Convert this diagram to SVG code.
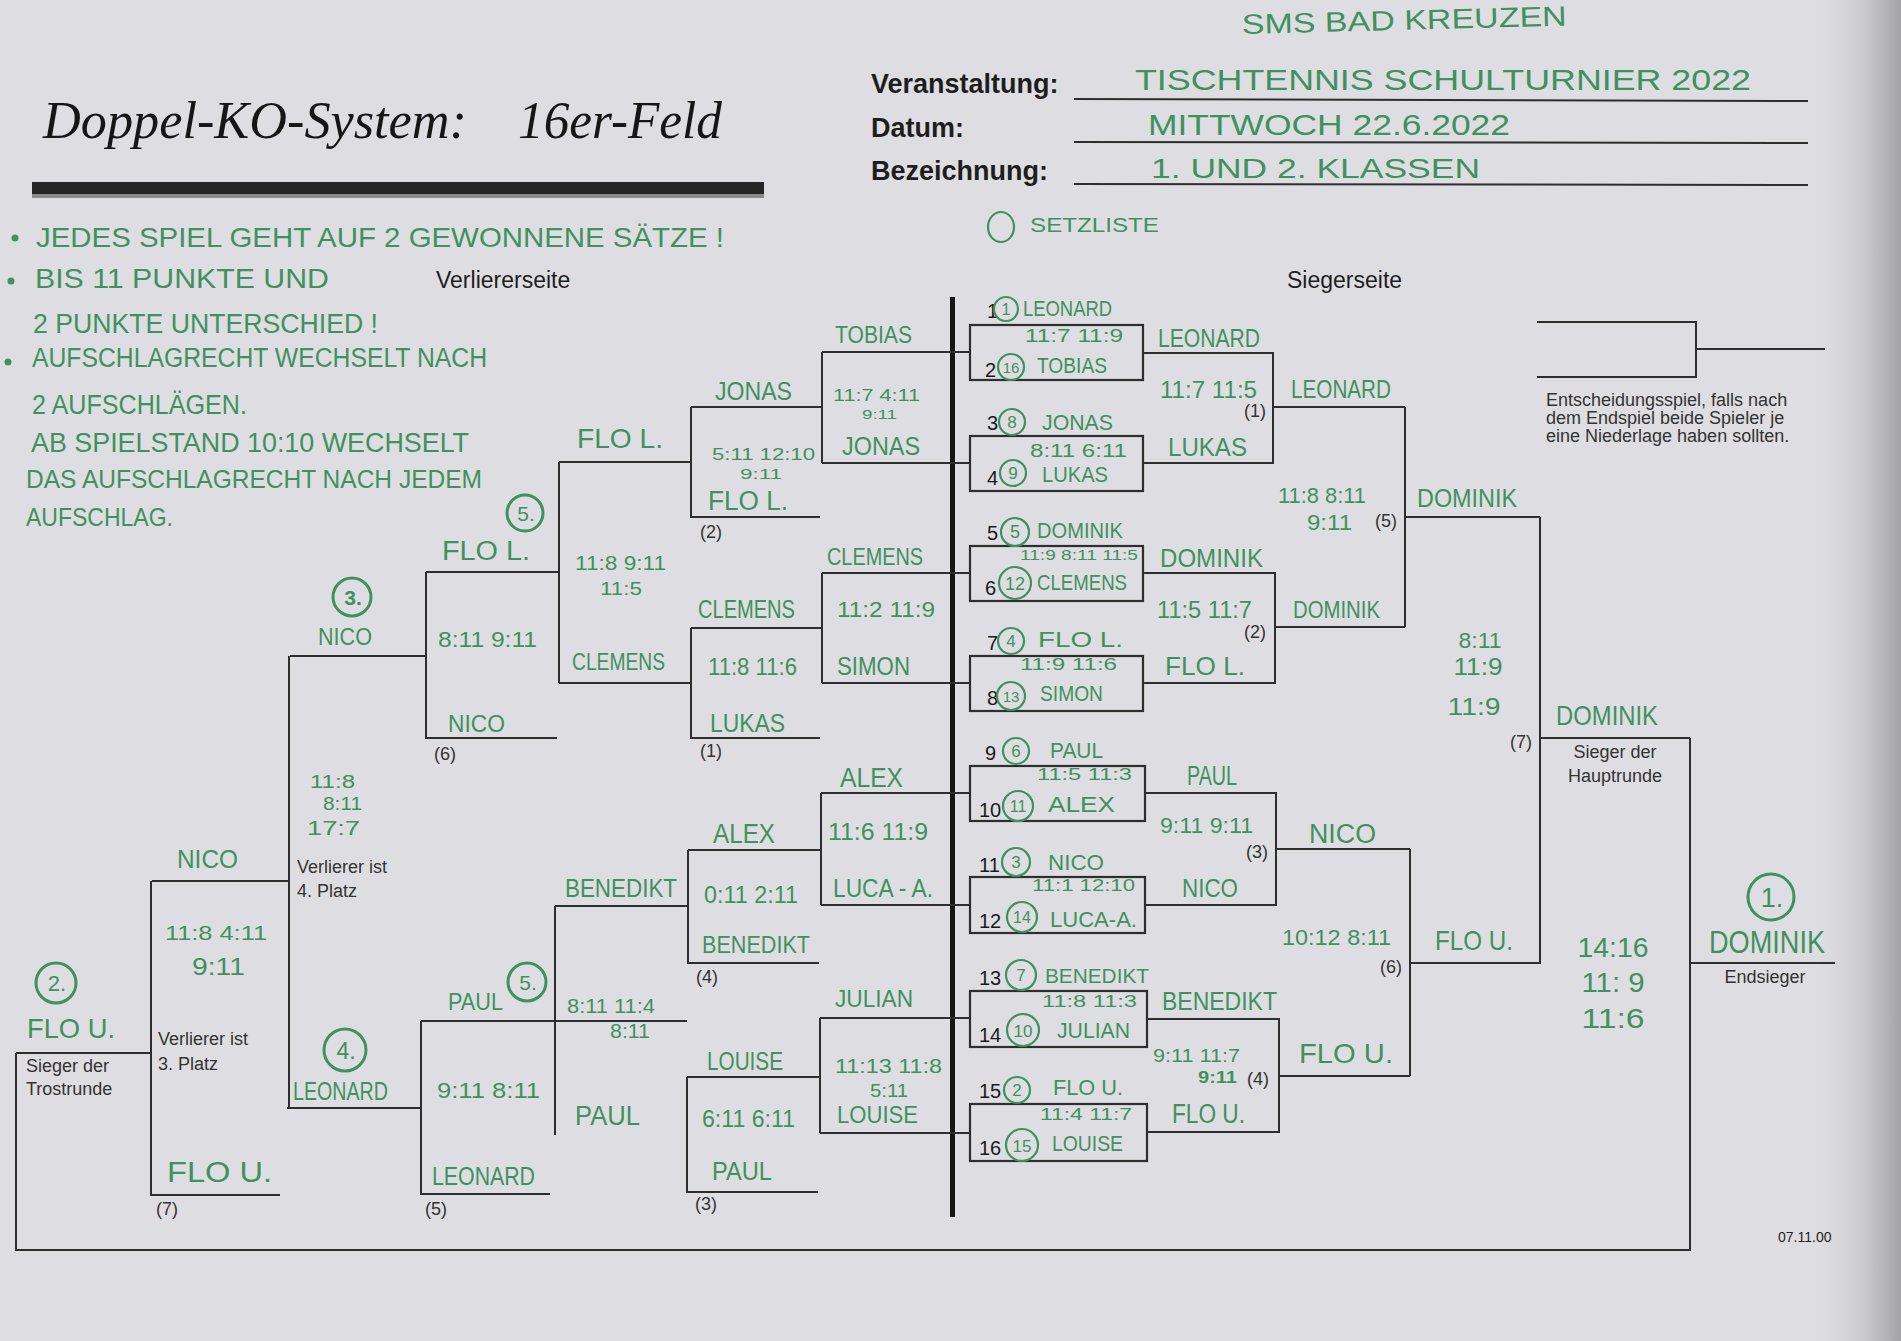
<svg xmlns="http://www.w3.org/2000/svg" width="1901" height="1341" viewBox="0 0 1901 1341">
<defs>
<linearGradient id="shade" x1="0" y1="0" x2="1" y2="0">
<stop offset="0" stop-color="#dcdce0" stop-opacity="0"/>
<stop offset="1" stop-color="#a2a2a6" stop-opacity="1"/>
</linearGradient>
</defs>
<style>
.ln{fill:none;stroke:#2e2e2e;stroke-width:2}
.box{fill:none;stroke:#2e2e2e;stroke-width:2.2}
.hw{font-family:"Liberation Sans","DejaVu Sans",sans-serif;fill:#3f9160}
.ring{fill:none;stroke:#3f9160;stroke-width:2.2}
.ring2{fill:none;stroke:#3f9160;stroke-width:3}
.pr{font-family:"Liberation Sans",Arial,sans-serif;fill:#1e1e1e}
.lab{font-family:"Liberation Sans",Arial,sans-serif;fill:#333333;font-size:18px}
.num{font-family:"Liberation Sans",Arial,sans-serif;fill:#1a1a1a;font-size:20px}
.rn{font-family:"Liberation Sans",Arial,sans-serif;fill:#3f9160;text-anchor:middle}
.mid{text-anchor:middle}
</style>
<rect x="0" y="0" width="1901" height="1341" fill="#dedee2"/>
<rect x="1810" y="0" width="91" height="1341" fill="url(#shade)"/>

<g id="title">
<text x="43" y="138" font-family="Liberation Serif,serif" font-style="italic" font-size="52" fill="#161616" textLength="424" lengthAdjust="spacingAndGlyphs">Doppel-KO-System:</text>
<text x="518" y="138" font-family="Liberation Serif,serif" font-style="italic" font-size="52" fill="#161616" textLength="204" lengthAdjust="spacingAndGlyphs">16er-Feld</text>
<rect x="32" y="182" width="732" height="12" fill="#262626"/>
<rect x="32" y="194" width="732" height="4" fill="#8a8a8a"/>
</g>

<g id="form">
<text class="hw" x="1242" y="34" font-size="28" textLength="325" lengthAdjust="spacingAndGlyphs" transform="rotate(-1.5 1242 34)">SMS  BAD  KREUZEN</text>
<text class="pr" x="871" y="93" font-size="27" font-weight="bold">Veranstaltung:</text>
<text class="pr" x="871" y="137" font-size="27" font-weight="bold">Datum:</text>
<text class="pr" x="871" y="180" font-size="27" font-weight="bold">Bezeichnung:</text>
<line class="ln" x1="1074" y1="99" x2="1808" y2="101" stroke-width="1.6"/>
<line class="ln" x1="1074" y1="142" x2="1808" y2="143" stroke-width="1.6"/>
<line class="ln" x1="1074" y1="184" x2="1808" y2="185" stroke-width="1.6"/>
<text class="hw" x="1135" y="90" font-size="30" textLength="616" lengthAdjust="spacingAndGlyphs">TISCHTENNIS  SCHULTURNIER  2022</text>
<text class="hw" x="1148" y="135" font-size="29" textLength="362" lengthAdjust="spacingAndGlyphs">MITTWOCH  22.6.2022</text>
<text class="hw" x="1151" y="178" font-size="28" textLength="329" lengthAdjust="spacingAndGlyphs">1. UND  2. KLASSEN</text>
<ellipse class="ring" cx="1001" cy="227" rx="13" ry="15"/>
<text class="hw" x="1030" y="232" font-size="21" textLength="129" lengthAdjust="spacingAndGlyphs">SETZLISTE</text>
</g>

<g id="notes">
<circle cx="15" cy="238" r="3.5" fill="#3f9160"/>
<circle cx="11" cy="281" r="3.5" fill="#3f9160"/>
<circle cx="8" cy="362" r="3.5" fill="#3f9160"/>
<text class="hw" x="36" y="247" font-size="28" textLength="688" lengthAdjust="spacingAndGlyphs">JEDES  SPIEL  GEHT  AUF  2  GEWONNENE  SÄTZE  !</text>
<text class="hw" x="35" y="288" font-size="28" textLength="294" lengthAdjust="spacingAndGlyphs">BIS  11  PUNKTE  UND</text>
<text class="hw" x="33" y="333" font-size="28" textLength="345" lengthAdjust="spacingAndGlyphs">2 PUNKTE  UNTERSCHIED !</text>
<text class="hw" x="32" y="367" font-size="27" textLength="455" lengthAdjust="spacingAndGlyphs">AUFSCHLAGRECHT  WECHSELT  NACH</text>
<text class="hw" x="32" y="414" font-size="27" textLength="215" lengthAdjust="spacingAndGlyphs">2 AUFSCHLÄGEN.</text>
<text class="hw" x="31" y="452" font-size="27" textLength="438" lengthAdjust="spacingAndGlyphs">AB  SPIELSTAND  10:10  WECHSELT</text>
<text class="hw" x="26" y="488" font-size="26" textLength="456" lengthAdjust="spacingAndGlyphs">DAS  AUFSCHLAGRECHT  NACH  JEDEM</text>
<text class="hw" x="26" y="526" font-size="26" textLength="147" lengthAdjust="spacingAndGlyphs">AUFSCHLAG.</text>
</g>

<g id="side-labels">
<text class="pr" x="436" y="288" font-size="23" fill="#2a2a2a">Verliererseite</text>
<text class="pr" x="1287" y="288" font-size="23" fill="#2a2a2a">Siegerseite</text>
</g>

<g id="connectors">
<rect x="950" y="297" width="5" height="920" fill="#151515"/>
<path class="ln" d="M822,352 H970 M822,463 H970 M822,352 V463 M822,407 H691"/>
<path class="ln" d="M822,573 H970 M822,683 H970 M822,573 V683 M822,628 H691"/>
<path class="ln" d="M821,793 H970 M821,905 H970 M821,793 V905 M821,850 H688"/>
<path class="ln" d="M820,1018 H970 M820,1133 H970 M820,1018 V1133 M820,1077 H687"/>
<path class="ln" d="M691,407 V517 H820 M691,462 H559"/>
<path class="ln" d="M691,628 V738 H820 M691,683 H559"/>
<path class="ln" d="M688,850 V963 H819 M688,906 H555"/>
<path class="ln" d="M687,1077 V1192 H818 M687,1021 H555"/>
<path class="ln" d="M559,462 V683 M559,572 H426"/>
<path class="ln" d="M555,906 V1135 M555,1021 H421"/>
<path class="ln" d="M426,572 V738 H557 M426,656 H290"/>
<path class="ln" d="M421,1021 V1194 H550 M421,1108 H287"/>
<path class="ln" d="M289,656 V1108 M289,881 H152"/>
<path class="ln" d="M151,881 V1195 H280 M151,1053 H16"/>
<path class="ln" d="M1143,353 H1273 V463 H1143 M1273,407 H1405"/>
<path class="ln" d="M1143,573 H1275 V683 H1143 M1275,627 H1405"/>
<path class="ln" d="M1145,793 H1276 V905 H1145 M1276,849 H1410"/>
<path class="ln" d="M1147,1019 H1279 V1132 H1147 M1279,1076 H1410"/>
<path class="ln" d="M1405,407 V627 M1405,517 H1540"/>
<path class="ln" d="M1410,849 V1076 M1410,963 H1541"/>
<path class="ln" d="M1540,517 V963 M1540,738 H1690"/>
<path class="ln" d="M16,1053 V1250 H1690 V738 M1690,963 H1835"/>
<path class="ln" d="M1537,322 H1696 V377 H1537 M1696,349 H1825"/>
</g>

<g id="w1-m1">
<rect class="box" x="970" y="325" width="173" height="55"/>
<text class="num" x="987" y="318">1</text>
<circle class="ring" cx="1006" cy="309" r="12"/><text class="rn" x="1006" y="315" font-size="16">1</text>
<text class="hw" x="1023" y="316" font-size="22" textLength="89" lengthAdjust="spacingAndGlyphs">LEONARD</text>
<text class="hw" x="1025" y="342" font-size="19" textLength="98" lengthAdjust="spacingAndGlyphs">11:7  11:9</text>
<text class="num" x="985" y="377">2</text>
<circle class="ring" cx="1011" cy="367" r="13"/><text class="rn" x="1011" y="373" font-size="15">16</text>
<text class="hw" x="1037" y="373" font-size="22" textLength="70" lengthAdjust="spacingAndGlyphs">TOBIAS</text>
</g>
<g id="w1-m2">
<rect class="box" x="970" y="436" width="173" height="55"/>
<text class="num" x="987" y="430">3</text>
<circle class="ring" cx="1012" cy="422" r="13"/><text class="rn" x="1012" y="428" font-size="17">8</text>
<text class="hw" x="1042" y="430" font-size="22" textLength="71" lengthAdjust="spacingAndGlyphs">JONAS</text>
<text class="hw" x="1030" y="457" font-size="19" textLength="97" lengthAdjust="spacingAndGlyphs">8:11  6:11</text>
<text class="num" x="987" y="485">4</text>
<circle class="ring" cx="1013" cy="473" r="13"/><text class="rn" x="1013" y="479" font-size="17">9</text>
<text class="hw" x="1042" y="482" font-size="22" textLength="66" lengthAdjust="spacingAndGlyphs">LUKAS</text>
</g>
<g id="w1-m3">
<rect class="box" x="970" y="546" width="173" height="55"/>
<text class="num" x="987" y="540">5</text>
<circle class="ring" cx="1015" cy="532" r="14"/><text class="rn" x="1015" y="538" font-size="18">5</text>
<text class="hw" x="1037" y="538" font-size="22" textLength="86" lengthAdjust="spacingAndGlyphs">DOMINIK</text>
<text class="hw" x="1020" y="560" font-size="15" textLength="118" lengthAdjust="spacingAndGlyphs">11:9 8:11 11:5</text>
<text class="num" x="985" y="595">6</text>
<circle class="ring" cx="1015" cy="583" r="16"/><text class="rn" x="1015" y="590" font-size="18">12</text>
<text class="hw" x="1037" y="590" font-size="22" textLength="90" lengthAdjust="spacingAndGlyphs">CLEMENS</text>
</g>
<g id="w1-m4">
<rect class="box" x="970" y="656" width="173" height="55"/>
<text class="num" x="987" y="650">7</text>
<circle class="ring" cx="1011" cy="641" r="13"/><text class="rn" x="1011" y="647" font-size="17">4</text>
<text class="hw" x="1038" y="647" font-size="22" textLength="85" lengthAdjust="spacingAndGlyphs">FLO   L.</text>
<text class="hw" x="1020" y="670" font-size="17" textLength="97" lengthAdjust="spacingAndGlyphs">11:9  11:6</text>
<text class="num" x="987" y="705">8</text>
<circle class="ring" cx="1011" cy="696" r="14"/><text class="rn" x="1011" y="702" font-size="15">13</text>
<text class="hw" x="1040" y="701" font-size="22" textLength="63" lengthAdjust="spacingAndGlyphs">SIMON</text>
</g>
<g id="w1-m5">
<rect class="box" x="970" y="766" width="175" height="55"/>
<text class="num" x="985" y="760">9</text>
<circle class="ring" cx="1016" cy="751" r="13"/><text class="rn" x="1016" y="757" font-size="17">6</text>
<text class="hw" x="1050" y="758" font-size="22" textLength="53" lengthAdjust="spacingAndGlyphs">PAUL</text>
<text class="hw" x="1037" y="780" font-size="17" textLength="95" lengthAdjust="spacingAndGlyphs">11:5  11:3</text>
<text class="num" x="979" y="817">10</text>
<circle class="ring" cx="1018" cy="806" r="15"/><text class="rn" x="1018" y="812" font-size="16">11</text>
<text class="hw" x="1048" y="812" font-size="22" textLength="67" lengthAdjust="spacingAndGlyphs">ALEX</text>
</g>
<g id="w1-m6">
<rect class="box" x="970" y="877" width="175" height="56"/>
<text class="num" x="979" y="872">11</text>
<circle class="ring" cx="1016" cy="862" r="14"/><text class="rn" x="1016" y="868" font-size="17">3</text>
<text class="hw" x="1048" y="870" font-size="22" textLength="56" lengthAdjust="spacingAndGlyphs">NICO</text>
<text class="hw" x="1032" y="891" font-size="16" textLength="103" lengthAdjust="spacingAndGlyphs">11:1  12:10</text>
<text class="num" x="979" y="928">12</text>
<circle class="ring" cx="1022" cy="917" r="15"/><text class="rn" x="1022" y="923" font-size="16">14</text>
<text class="hw" x="1050" y="927" font-size="22" textLength="87" lengthAdjust="spacingAndGlyphs">LUCA-A.</text>
</g>
<g id="w1-m7">
<rect class="box" x="970" y="991" width="177" height="56"/>
<text class="num" x="979" y="985">13</text>
<circle class="ring" cx="1021" cy="975" r="15"/><text class="rn" x="1021" y="981" font-size="17">7</text>
<text class="hw" x="1045" y="983" font-size="21" textLength="104" lengthAdjust="spacingAndGlyphs">BENEDIKT</text>
<text class="hw" x="1042" y="1007" font-size="17" textLength="95" lengthAdjust="spacingAndGlyphs">11:8  11:3</text>
<text class="num" x="979" y="1042">14</text>
<circle class="ring" cx="1023" cy="1030" r="16"/><text class="rn" x="1023" y="1037" font-size="17">10</text>
<text class="hw" x="1057" y="1038" font-size="22" textLength="73" lengthAdjust="spacingAndGlyphs">JULIAN</text>
</g>
<g id="w1-m8">
<rect class="box" x="970" y="1104" width="177" height="57"/>
<text class="num" x="979" y="1098">15</text>
<circle class="ring" cx="1017" cy="1090" r="13"/><text class="rn" x="1017" y="1096" font-size="17">2</text>
<text class="hw" x="1053" y="1095" font-size="22" textLength="70" lengthAdjust="spacingAndGlyphs">FLO  U.</text>
<text class="hw" x="1040" y="1120" font-size="17" textLength="92" lengthAdjust="spacingAndGlyphs">11:4  11:7</text>
<text class="num" x="979" y="1155">16</text>
<circle class="ring" cx="1022" cy="1145" r="16"/><text class="rn" x="1022" y="1152" font-size="17">15</text>
<text class="hw" x="1052" y="1151" font-size="22" textLength="71" lengthAdjust="spacingAndGlyphs">LOUISE</text>
</g>

<g id="w2-m1">
<text class="hw" x="1158" y="347" font-size="26" textLength="102" lengthAdjust="spacingAndGlyphs">LEONARD</text>
<text class="hw" x="1160" y="398" font-size="23" textLength="97" lengthAdjust="spacingAndGlyphs">11:7  11:5</text>
<text class="lab mid" x="1255" y="417">(1)</text>
<text class="hw" x="1168" y="456" font-size="26" textLength="79" lengthAdjust="spacingAndGlyphs">LUKAS</text>
</g>
<g id="w2-m2">
<text class="hw" x="1160" y="567" font-size="26" textLength="103" lengthAdjust="spacingAndGlyphs">DOMINIK</text>
<text class="hw" x="1157" y="618" font-size="23" textLength="95" lengthAdjust="spacingAndGlyphs">11:5  11:7</text>
<text class="lab mid" x="1255" y="638">(2)</text>
<text class="hw" x="1165" y="675" font-size="26" textLength="80" lengthAdjust="spacingAndGlyphs">FLO  L.</text>
</g>
<g id="w2-m3">
<text class="hw" x="1187" y="785" font-size="27" textLength="50" lengthAdjust="spacingAndGlyphs">PAUL</text>
<text class="hw" x="1160" y="833" font-size="22" textLength="93" lengthAdjust="spacingAndGlyphs">9:11  9:11</text>
<text class="lab mid" x="1257" y="858">(3)</text>
<text class="hw" x="1182" y="897" font-size="25" textLength="56" lengthAdjust="spacingAndGlyphs">NICO</text>
</g>
<g id="w2-m4">
<text class="hw" x="1162" y="1010" font-size="25" textLength="115" lengthAdjust="spacingAndGlyphs">BENEDIKT</text>
<text class="hw" x="1153" y="1062" font-size="18" textLength="87" lengthAdjust="spacingAndGlyphs">9:11  11:7</text>
<text class="hw" x="1198" y="1083" font-size="16" font-weight="bold" textLength="39" lengthAdjust="spacingAndGlyphs">9:11</text>
<text class="lab mid" x="1258" y="1085">(4)</text>
<text class="hw" x="1172" y="1123" font-size="27" textLength="73" lengthAdjust="spacingAndGlyphs">FLO  U.</text>
</g>

<g id="w3-m1">
<text class="hw" x="1291" y="398" font-size="26" textLength="100" lengthAdjust="spacingAndGlyphs">LEONARD</text>
<text class="hw" x="1278" y="503" font-size="22" textLength="88" lengthAdjust="spacingAndGlyphs">11:8  8:11</text>
<text class="hw" x="1307" y="530" font-size="22" textLength="45" lengthAdjust="spacingAndGlyphs">9:11</text>
<text class="lab mid" x="1386" y="527">(5)</text>
<text class="hw" x="1293" y="618" font-size="24" textLength="87" lengthAdjust="spacingAndGlyphs">DOMINIK</text>
</g>
<g id="w3-m2">
<text class="hw" x="1309" y="843" font-size="27" textLength="67" lengthAdjust="spacingAndGlyphs">NICO</text>
<text class="hw" x="1282" y="945" font-size="22" textLength="109" lengthAdjust="spacingAndGlyphs">10:12  8:11</text>
<text class="lab mid" x="1391" y="973">(6)</text>
<text class="hw" x="1299" y="1063" font-size="28" textLength="94" lengthAdjust="spacingAndGlyphs">FLO   U.</text>
</g>
<g id="w4">
<text class="hw" x="1417" y="507" font-size="26" textLength="100" lengthAdjust="spacingAndGlyphs">DOMINIK</text>
<text class="hw mid" x="1480" y="648" font-size="22" textLength="43" lengthAdjust="spacingAndGlyphs">8:11</text>
<text class="hw mid" x="1478" y="675" font-size="23" textLength="49" lengthAdjust="spacingAndGlyphs">11:9</text>
<text class="hw mid" x="1474" y="715" font-size="24" textLength="53" lengthAdjust="spacingAndGlyphs">11:9</text>
<text class="lab mid" x="1521" y="748">(7)</text>
<text class="hw" x="1435" y="950" font-size="28" textLength="78" lengthAdjust="spacingAndGlyphs">FLO  U.</text>
</g>
<g id="main-winner">
<text class="hw" x="1556" y="725" font-size="28" textLength="102" lengthAdjust="spacingAndGlyphs">DOMINIK</text>
<text class="lab mid" x="1615" y="758" font-size="18.5">Sieger der</text>
<text class="lab mid" x="1615" y="782" font-size="18.5">Hauptrunde</text>
</g>
<g id="grand-final">
<text class="hw mid" x="1613" y="957" font-size="28" textLength="71" lengthAdjust="spacingAndGlyphs">14:16</text>
<text class="hw mid" x="1613" y="992" font-size="28" textLength="63" lengthAdjust="spacingAndGlyphs">11: 9</text>
<text class="hw mid" x="1613" y="1028" font-size="28" textLength="63" lengthAdjust="spacingAndGlyphs">11:6</text>
</g>
<g id="champion">
<circle class="ring2" cx="1771" cy="897" r="23"/>
<text class="rn" x="1772" y="907" font-size="27">1.</text>
<text class="hw" x="1709" y="953" font-size="32" textLength="116" lengthAdjust="spacingAndGlyphs">DOMINIK</text>
<text class="lab mid" x="1765" y="983" font-size="18.5">Endsieger</text>
</g>
<g id="decider">
<text class="lab" x="1546" y="406">Entscheidungsspiel, falls nach</text>
<text class="lab" x="1546" y="424">dem Endspiel beide Spieler je</text>
<text class="lab" x="1546" y="442">eine Niederlage haben sollten.</text>
</g>
<text class="pr" x="1778" y="1242" font-size="14" fill="#444">07.11.00</text>

<g id="l1-m1">
<text class="hw" x="835" y="343" font-size="24" textLength="77" lengthAdjust="spacingAndGlyphs">TOBIAS</text>
<text class="hw" x="833" y="401" font-size="17" textLength="87" lengthAdjust="spacingAndGlyphs">11:7  4:11</text>
<text class="hw" x="862" y="419" font-size="13" textLength="35" lengthAdjust="spacingAndGlyphs">9:11</text>
<text class="hw" x="842" y="455" font-size="26" textLength="78" lengthAdjust="spacingAndGlyphs">JONAS</text>
</g>
<g id="l1-m2">
<text class="hw" x="827" y="565" font-size="24" textLength="96" lengthAdjust="spacingAndGlyphs">CLEMENS</text>
<text class="hw" x="837" y="617" font-size="22" textLength="98" lengthAdjust="spacingAndGlyphs">11:2  11:9</text>
<text class="hw" x="837" y="675" font-size="26" textLength="73" lengthAdjust="spacingAndGlyphs">SIMON</text>
</g>
<g id="l1-m3">
<text class="hw" x="840" y="787" font-size="27" textLength="63" lengthAdjust="spacingAndGlyphs">ALEX</text>
<text class="hw" x="828" y="840" font-size="24" textLength="100" lengthAdjust="spacingAndGlyphs">11:6  11:9</text>
<text class="hw" x="833" y="897" font-size="26" textLength="100" lengthAdjust="spacingAndGlyphs">LUCA - A.</text>
</g>
<g id="l1-m4">
<text class="hw" x="835" y="1007" font-size="24" textLength="78" lengthAdjust="spacingAndGlyphs">JULIAN</text>
<text class="hw" x="835" y="1073" font-size="20" textLength="107" lengthAdjust="spacingAndGlyphs">11:13  11:8</text>
<text class="hw" x="870" y="1097" font-size="18" textLength="38" lengthAdjust="spacingAndGlyphs">5:11</text>
<text class="hw" x="837" y="1123" font-size="24" textLength="81" lengthAdjust="spacingAndGlyphs">LOUISE</text>
</g>

<g id="l2-m1">
<text class="hw" x="715" y="400" font-size="25" textLength="77" lengthAdjust="spacingAndGlyphs">JONAS</text>
<text class="hw" x="712" y="460" font-size="17" textLength="103" lengthAdjust="spacingAndGlyphs">5:11  12:10</text>
<text class="hw" x="740" y="479" font-size="14" textLength="42" lengthAdjust="spacingAndGlyphs">9:11</text>
<text class="hw" x="708" y="510" font-size="27" textLength="80" lengthAdjust="spacingAndGlyphs">FLO  L.</text>
<text class="lab mid" x="711" y="538">(2)</text>
</g>
<g id="l2-m2">
<text class="hw" x="698" y="618" font-size="25" textLength="97" lengthAdjust="spacingAndGlyphs">CLEMENS</text>
<text class="hw" x="708" y="675" font-size="24" textLength="89" lengthAdjust="spacingAndGlyphs">11:8  11:6</text>
<text class="hw" x="710" y="732" font-size="26" textLength="75" lengthAdjust="spacingAndGlyphs">LUKAS</text>
<text class="lab mid" x="711" y="757">(1)</text>
</g>
<g id="l2-m3">
<text class="hw" x="713" y="843" font-size="27" textLength="62" lengthAdjust="spacingAndGlyphs">ALEX</text>
<text class="hw" x="704" y="903" font-size="23" textLength="94" lengthAdjust="spacingAndGlyphs">0:11   2:11</text>
<text class="hw" x="702" y="953" font-size="24" textLength="108" lengthAdjust="spacingAndGlyphs">BENEDIKT</text>
<text class="lab mid" x="707" y="983">(4)</text>
</g>
<g id="l2-m4">
<text class="hw" x="707" y="1070" font-size="26" textLength="76" lengthAdjust="spacingAndGlyphs">LOUISE</text>
<text class="hw" x="702" y="1127" font-size="23" textLength="93" lengthAdjust="spacingAndGlyphs">6:11  6:11</text>
<text class="hw" x="712" y="1180" font-size="26" textLength="60" lengthAdjust="spacingAndGlyphs">PAUL</text>
<text class="lab mid" x="706" y="1210">(3)</text>
</g>

<g id="l3-m1">
<text class="hw" x="577" y="448" font-size="28" textLength="86" lengthAdjust="spacingAndGlyphs">FLO  L.</text>
<text class="hw" x="575" y="570" font-size="21" textLength="91" lengthAdjust="spacingAndGlyphs">11:8  9:11</text>
<text class="hw" x="600" y="595" font-size="19" textLength="42" lengthAdjust="spacingAndGlyphs">11:5</text>
<text class="hw" x="572" y="670" font-size="24" textLength="93" lengthAdjust="spacingAndGlyphs">CLEMENS</text>
</g>
<g id="l3-m2">
<text class="hw" x="565" y="897" font-size="26" textLength="112" lengthAdjust="spacingAndGlyphs">BENEDIKT</text>
<text class="hw" x="567" y="1013" font-size="20" textLength="88" lengthAdjust="spacingAndGlyphs">8:11  11:4</text>
<text class="hw" x="610" y="1038" font-size="20" textLength="40" lengthAdjust="spacingAndGlyphs">8:11</text>
<text class="hw" x="575" y="1125" font-size="27" textLength="65" lengthAdjust="spacingAndGlyphs">PAUL</text>
</g>

<g id="l4-m1">
<circle class="ring2" cx="525" cy="513" r="18"/>
<text class="rn" x="526" y="521" font-size="21">5.</text>
<text class="hw" x="442" y="560" font-size="27" textLength="88" lengthAdjust="spacingAndGlyphs">FLO  L.</text>
<text class="hw" x="438" y="647" font-size="22" textLength="99" lengthAdjust="spacingAndGlyphs">8:11   9:11</text>
<text class="hw" x="448" y="732" font-size="24" textLength="57" lengthAdjust="spacingAndGlyphs">NICO</text>
<text class="lab mid" x="445" y="760">(6)</text>
</g>
<g id="l4-m2">
<circle class="ring2" cx="527" cy="982" r="19"/>
<text class="rn" x="528" y="990" font-size="21">5.</text>
<text class="hw" x="448" y="1010" font-size="24" textLength="55" lengthAdjust="spacingAndGlyphs">PAUL</text>
<text class="hw" x="437" y="1098" font-size="22" textLength="103" lengthAdjust="spacingAndGlyphs">9:11  8:11</text>
<text class="hw" x="432" y="1185" font-size="26" textLength="103" lengthAdjust="spacingAndGlyphs">LEONARD</text>
<text class="lab mid" x="436" y="1215">(5)</text>
</g>

<g id="l5">
<circle class="ring2" cx="352" cy="597" r="19"/>
<text class="rn" x="353" y="605" font-size="21" font-weight="bold">3.</text>
<text class="hw" x="318" y="645" font-size="24" textLength="54" lengthAdjust="spacingAndGlyphs">NICO</text>
<text class="hw" x="310" y="788" font-size="18" textLength="45" lengthAdjust="spacingAndGlyphs">11:8</text>
<text class="hw" x="323" y="810" font-size="18" textLength="39" lengthAdjust="spacingAndGlyphs">8:11</text>
<text class="hw" x="307" y="835" font-size="20" textLength="53" lengthAdjust="spacingAndGlyphs">17:7</text>
<text class="lab" x="297" y="873" font-size="18.5">Verlierer ist</text>
<text class="lab" x="297" y="897" font-size="18.5">4. Platz</text>
<circle class="ring2" cx="345" cy="1050" r="21"/>
<text class="rn" x="346" y="1059" font-size="23">4.</text>
<text class="hw" x="293" y="1100" font-size="26" textLength="95" lengthAdjust="spacingAndGlyphs">LEONARD</text>
</g>

<g id="l6">
<text class="hw" x="177" y="868" font-size="26" textLength="61" lengthAdjust="spacingAndGlyphs">NICO</text>
<text class="hw" x="165" y="940" font-size="21" textLength="102" lengthAdjust="spacingAndGlyphs">11:8   4:11</text>
<text class="hw" x="192" y="975" font-size="23" textLength="53" lengthAdjust="spacingAndGlyphs">9:11</text>
<text class="lab" x="158" y="1045" font-size="18.5">Verlierer ist</text>
<text class="lab" x="158" y="1070" font-size="18.5">3. Platz</text>
<text class="hw" x="167" y="1182" font-size="29" textLength="105" lengthAdjust="spacingAndGlyphs">FLO   U.</text>
<text class="lab mid" x="167" y="1215">(7)</text>
</g>

<g id="consolation-winner">
<circle class="ring2" cx="56" cy="983" r="20"/>
<text class="rn" x="57" y="991" font-size="22">2.</text>
<text class="hw" x="27" y="1038" font-size="28" textLength="88" lengthAdjust="spacingAndGlyphs">FLO  U.</text>
<text class="lab" x="26" y="1072" font-size="18">Sieger der</text>
<text class="lab" x="26" y="1095" font-size="18">Trostrunde</text>
</g>
</svg>
